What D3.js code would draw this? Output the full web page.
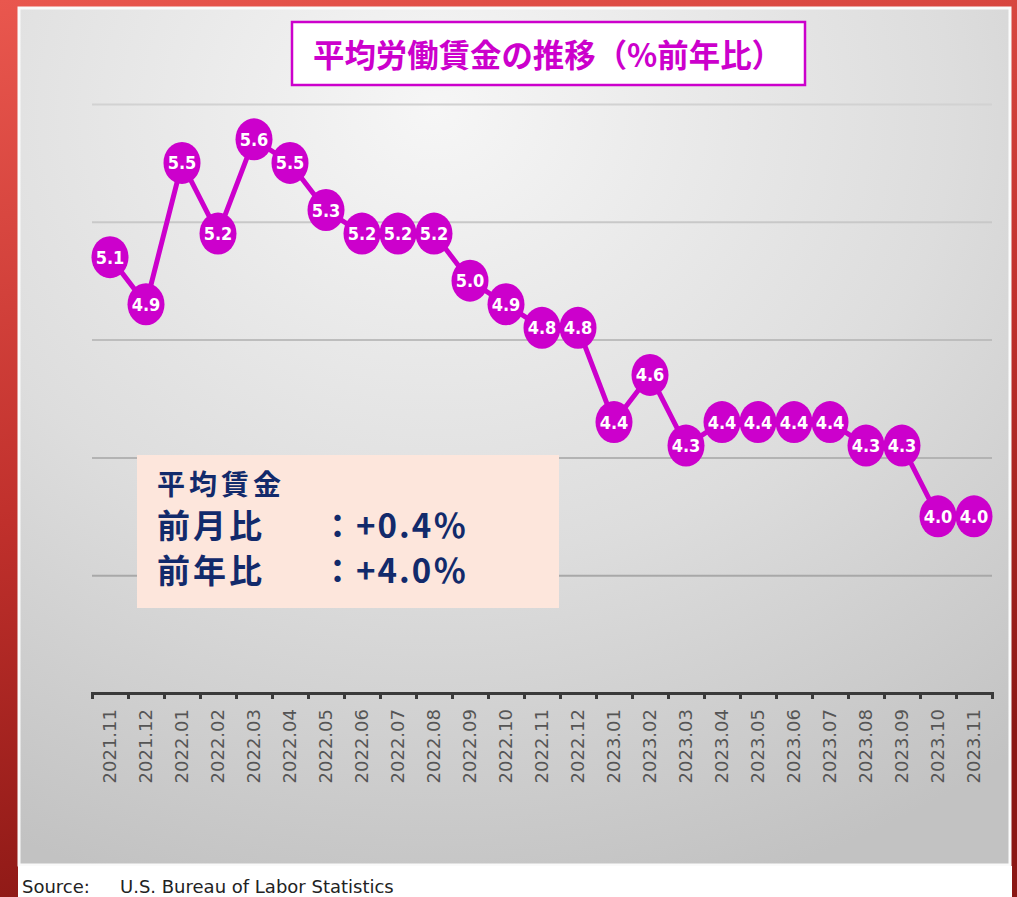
<!DOCTYPE html>
<html>
<head>
<meta charset="utf-8">
<script src="https://cdn.jsdelivr.net/npm/d3@7"></script>
<style>
  body { margin: 0; overflow: hidden; background: #fff; }
</style>
</head>
<body>
<div id="chart"></div>
<script>
// data
const months = ['2021.11', '2021.12', '2022.01', '2022.02', '2022.03', '2022.04', '2022.05',
  '2022.06', '2022.07', '2022.08', '2022.09', '2022.10', '2022.11', '2022.12', '2023.01',
  '2023.02', '2023.03', '2023.04', '2023.05', '2023.06', '2023.07', '2023.08', '2023.09',
  '2023.10', '2023.11'];
const wages = [5.1, 4.9, 5.5, 5.2, 5.6, 5.5, 5.3, 5.2, 5.2, 5.2, 5.0, 4.9, 4.8, 4.8, 4.4,
  4.6, 4.3, 4.4, 4.4, 4.4, 4.4, 4.3, 4.3, 4.0, 4.0];
const gridValues = [3.75, 4.25, 4.75, 5.25, 5.75];
const yDomain = [3.25, 5.75];
const titleText = '平均労働賃金の推移（%前年比）';
const noteHead = '平均賃金';
const noteNames = ['前月比', '前年比'];
const noteValues = ['：+0.4％', '：+4.0％'];
const sourceLabel = 'Source:';
const sourceText = 'U.S. Bureau of Labor Statistics';

const W = 1017, H = 897;
const magenta = '#cc00cc';
const navy = '#122a6b';

const svg = d3.select('#chart').append('svg')
  .attr('width', W).attr('height', H);

// defs: background gradients
const defs = svg.append('defs');
const red = defs.append('linearGradient').attr('id', 'redbg')
  .attr('x1', 0).attr('y1', 0).attr('x2', 0.25).attr('y2', 1);
red.append('stop').attr('offset', '0%').attr('stop-color', '#e9574e');
red.append('stop').attr('offset', '55%').attr('stop-color', '#c0302c');
red.append('stop').attr('offset', '100%').attr('stop-color', '#8a1714');

const panelGrad = defs.append('radialGradient').attr('id', 'panel')
  .attr('cx', '42%').attr('cy', '12%').attr('r', '95%');
panelGrad.append('stop').attr('offset', '0%').attr('stop-color', '#f6f6f6');
panelGrad.append('stop').attr('offset', '55%').attr('stop-color', '#dddddd');
panelGrad.append('stop').attr('offset', '100%').attr('stop-color', '#c2c2c2');

svg.append('rect').attr('width', W).attr('height', H).attr('fill', 'url(#redbg)');
svg.append('rect').attr('x', 19).attr('y', 8).attr('width', 991).attr('height', 857)
  .attr('fill', 'url(#panel)').attr('stroke', '#fafafa').attr('stroke-width', 3);
svg.append('rect').attr('x', 18).attr('y', 866).attr('width', 994).attr('height', 31)
  .attr('fill', '#ffffff');

// scales
const x = d3.scaleBand().domain(months).range([92, 992]);
const xEdge = d3.scaleLinear().domain([0, months.length]).range([92, 992]);
const y = d3.scaleLinear().domain(yDomain).range([693, 104]);
const cx = d => x(d) + x.bandwidth() / 2;

// gridlines (fainter toward the top, as in the scan)
const gridShade = d3.scaleLinear().domain(d3.extent(gridValues)).range(['#a8a8a8', '#d2d2d2']);
const grid = svg.append('g').attr('transform', 'translate(92,0)')
  .call(d3.axisLeft(y).tickValues(gridValues).tickSize(-900).tickFormat(''));
grid.select('.domain').remove();
grid.selectAll('line').attr('stroke', d => gridShade(d)).attr('stroke-width', 2);

// x axis: tick marks at band edges
const axisG = svg.append('g').attr('transform', 'translate(0,693)')
  .call(d3.axisBottom(xEdge).tickValues(d3.range(months.length + 1))
    .tickSize(6).tickFormat(''));
axisG.select('.domain').attr('stroke', '#3a3a3a').attr('stroke-width', 3);
axisG.selectAll('line').attr('stroke', '#3a3a3a').attr('stroke-width', 3);

// x axis labels
const labelG = svg.append('g').attr('transform', 'translate(0,693)')
  .call(d3.axisBottom(x).tickSize(0));
labelG.select('.domain').remove();
labelG.selectAll('text')
  .attr('transform', 'rotate(-90)')
  .attr('text-anchor', 'end')
  .attr('x', -16).attr('y', 0).attr('dy', '0.36em')
  .attr('font-family', '"DejaVu Sans", Verdana, sans-serif')
  .attr('font-size', 18)
  .attr('fill', '#555555');

// title box
svg.append('rect').attr('x', 292).attr('y', 22).attr('width', 513).attr('height', 63)
  .attr('fill', '#ffffff').attr('stroke', magenta).attr('stroke-width', 2.5);
svg.append('text').text(titleText)
  .attr('x', 548).attr('y', 67).attr('text-anchor', 'middle')
  .attr('font-family', '"Noto Sans CJK JP", sans-serif').attr('font-weight', 700)
  .attr('font-size', 32).attr('fill', magenta)
  .attr('textLength', 470).attr('lengthAdjust', 'spacingAndGlyphs');

// annotation box
const note = svg.append('g');
note.append('rect').attr('x', 137).attr('y', 455).attr('width', 422).attr('height', 153)
  .attr('fill', '#fde6dc');
note.append('text').text(noteHead)
  .attr('x', 157).attr('y', 495)
  .attr('font-family', '"Noto Sans CJK JP", sans-serif').attr('font-weight', 700)
  .attr('font-size', 28).attr('letter-spacing', 4).attr('fill', navy);
noteNames.forEach((n, i) => {
  note.append('text').text(n)
    .attr('x', 157).attr('y', 538 + i * 45)
    .attr('font-family', '"Noto Sans CJK JP", sans-serif').attr('font-weight', 700)
    .attr('font-size', 33).attr('letter-spacing', 3).attr('fill', navy);
  note.append('text').text(noteValues[i])
    .attr('x', 321).attr('y', 538 + i * 45)
    .attr('font-family', '"Noto Sans CJK JP", sans-serif').attr('font-weight', 700)
    .attr('font-size', 33).attr('letter-spacing', 2).attr('fill', navy);
});

// line
const line = d3.line().x((d, i) => cx(months[i])).y(d => y(d));
svg.append('path').datum(wages)
  .attr('d', line)
  .attr('fill', 'none').attr('stroke', magenta).attr('stroke-width', 5)
  .attr('stroke-linejoin', 'round');

// markers
const pts = svg.append('g').selectAll('g').data(wages).join('g')
  .attr('transform', (d, i) => `translate(${cx(months[i])},${y(d)})`);
pts.append('ellipse').attr('rx', 18.5).attr('ry', 21).attr('fill', magenta);
pts.append('text').text(d => d.toFixed(1))
  .attr('text-anchor', 'middle').attr('dy', '0.36em')
  .attr('font-family', '"Liberation Sans Narrow", "DejaVu Sans Condensed", sans-serif')
  .attr('font-weight', 700).attr('font-size', 18).attr('fill', '#ffffff');

// source
svg.append('text').text(sourceLabel).attr('x', 22).attr('y', 893)
  .attr('font-family', '"DejaVu Sans", Verdana, sans-serif').attr('font-size', 18).attr('fill', '#222');
svg.append('text').text(sourceText).attr('x', 120).attr('y', 893)
  .attr('font-family', '"DejaVu Sans", Verdana, sans-serif').attr('font-size', 18).attr('fill', '#222');
</script>
</body>
</html>
